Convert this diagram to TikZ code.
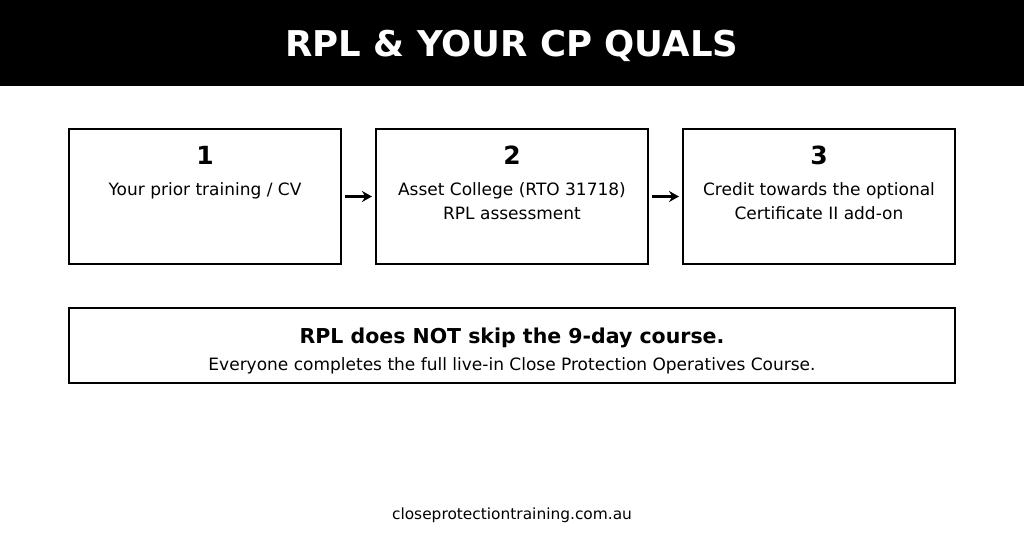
\documentclass[tikz,border=0pt]{standalone}
\usepackage{fontspec}
\setmainfont{DejaVu Sans}
\usetikzlibrary{arrows.meta,positioning}

\begin{document}
\begin{tikzpicture}[
  x=1pt, y=-1pt,
  every node/.style={font=\fontsize{17}{23.5}\selectfont, align=center, inner sep=0pt},
  stepbox/.style={draw, line width=2pt, minimum width=272pt, minimum height=135pt},
  notebox/.style={draw, line width=2pt, minimum width=886pt, minimum height=75pt},
  num/.style={font=\fontsize{25}{30}\selectfont\bfseries, anchor=base},
  desc/.style={anchor=base},
  arr/.style={-{Stealth[length=10pt,width=11pt]}, line width=2.5pt,
              shorten <=3pt, shorten >=3pt}
]
  \useasboundingbox (0,0) rectangle (1024,538);
  \fill[black] (0,0) rectangle (1024,86);
  \node[text=white, anchor=base, font=\fontsize{35.5}{40}\selectfont\bfseries]
    (title) at (512,56) {RPL \& YOUR CP QUALS};

  % three steps
  \node[stepbox] (s1) at (205,196.5) {};
  \node[stepbox] (s2) at (512,196.5) {};
  \node[stepbox] (s3) at (819,196.5) {};

  \node[num] (n1) at ([yshift=-36pt]s1.north) {1};
  \node[num] (n2) at ([yshift=-36pt]s2.north) {2};
  \node[num] (n3) at ([yshift=-36pt]s3.north) {3};

  % base of a two-line text is its last line
  \node[desc] (d1) at ([yshift=-67pt]s1.north) {Your prior training / CV};
  \node[desc] (d2) at ([yshift=-91pt]s2.north) {Asset College (RTO 31718)\\RPL assessment};
  \node[desc] (d3) at ([yshift=-91pt]s3.north) {Credit towards the optional\\Certificate II add-on};

  \draw[arr] (s1) -- (s2);
  \draw[arr] (s2) -- (s3);

  % note
  \node[notebox] (note) at (512,345.5) {};
  \node[anchor=base, font=\fontsize{20.5}{24}\selectfont\bfseries]
    (warn) at ([yshift=-36pt]note.north) {RPL does NOT skip the 9-day course.};
  \node[anchor=base] (every) at ([yshift=-63pt]note.north)
    {Everyone completes the full live-in Close Protection Operatives Course.};

  \node[anchor=base, font=\fontsize{15.4}{18}\selectfont] (site) at (512,519)
    {closeprotectiontraining.com.au};
\end{tikzpicture}
\end{document}
